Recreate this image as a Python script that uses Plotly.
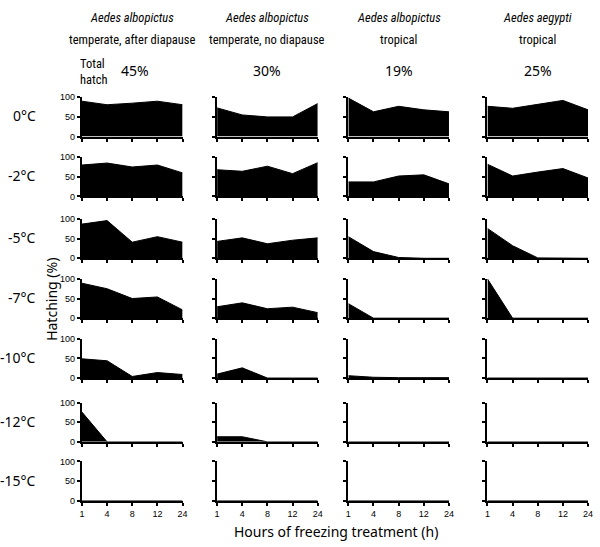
import plotly.graph_objects as go

W, H = 600, 547

hours = ["1", "4", "8", "12", "24"]
temps = ["0°C", "-2°C", "-5°C", "-7°C", "-10°C", "-12°C", "-15°C"]
groups = [("Aedes albopictus", "temperate, after diapause"),
          ("Aedes albopictus", "temperate, no diapause"),
          ("Aedes albopictus", "tropical"),
          ("Aedes aegypti", "tropical")]
total_hatch = ["45%", "30%", "19%", "25%"]

# hatching (%) per group, per temperature, per hour
temperate_diapause = [
    [90, 81, 85, 90, 81],
    [80, 85, 75, 80, 60],
    [87, 96, 41, 55, 41],
    [89, 75, 50, 54, 21],
    [49, 44, 4, 14, 9],
    [76, 0, 0, 0, 0],
    [0, 0, 0, 0, 0],
]
temperate_no_diapause = [
    [73, 55, 50, 50, 84],
    [68, 64, 77, 58, 86],
    [43, 52, 37, 46, 52],
    [29, 39, 24, 28, 14],
    [10, 26, 0, 0, 0],
    [13, 13, 0, 0, 0],
    [0, 0, 0, 0, 0],
]
albopictus_tropical = [
    [98, 63, 77, 68, 63],
    [37, 37, 52, 55, 32],
    [55, 17, 2, 0, 0],
    [37, 0, 0, 0, 0],
    [6, 2, 1, 1, 1],
    [0, 0, 0, 0, 0],
    [0, 0, 0, 0, 0],
]
aegypti_tropical = [
    [77, 72, 82, 92, 68],
    [82, 52, 62, 71, 47],
    [76, 32, 1, 0, 0],
    [100, 0, 0, 0, 0],
    [0, 0, 0, 0, 0],
    [0, 0, 0, 0, 0],
    [0, 0, 0, 0, 0],
]
series = [temperate_diapause, temperate_no_diapause, albopictus_tropical, aegypti_tropical]

col_px = [(80, 182), (217, 319), (350, 452), (491, 593)]
row_tops = [94, 155, 218, 279, 340, 405, 465]
row_h = 40

fig = go.Figure()
layout = dict(width=W, height=H, margin=dict(l=0, r=0, t=0, b=0),
              paper_bgcolor="white", plot_bgcolor="white", showlegend=False)

tick_font = dict(family="Liberation Sans, Arial, sans-serif", size=9, color="black")
n = 0
for r, temp in enumerate(temps):
    for c in range(4):
        n += 1
        xa = "xaxis" if n == 1 else f"xaxis{n}"
        ya = "yaxis" if n == 1 else f"yaxis{n}"
        xr = "x" if n == 1 else f"x{n}"
        yr = "y" if n == 1 else f"y{n}"
        fig.add_trace(go.Scatter(
            x=hours, y=series[c][r], mode="lines", fill="tozeroy",
            fillcolor="black", line=dict(color="black", width=1),
            xaxis=xr, yaxis=yr, hoverinfo="skip"))
        x0, x1 = col_px[c]
        top = row_tops[r]
        layout[xa] = dict(
            domain=[x0 / W, x1 / W], anchor=yr, type="category",
            range=[0, 4], showline=True, linecolor="black", linewidth=2,
            ticks="outside", ticklen=3, tickwidth=1.5, tickcolor="black",
            showgrid=False, zeroline=False, fixedrange=True,
            showticklabels=(r == len(temps) - 1), tickfont=tick_font)
        layout[ya] = dict(
            domain=[1 - (top + row_h) / H, 1 - top / H], anchor=xr,
            range=[0, 100], tickvals=[0, 50, 100], showline=True,
            linecolor="black", linewidth=2, ticks="outside", ticklen=3,
            tickwidth=1.5, tickcolor="black", showgrid=False, zeroline=False,
            fixedrange=True, showticklabels=(c == 0), tickfont=tick_font)

fig.update_layout(**layout)

ann = []
head_font = "Liberation Sans Narrow, Roboto Condensed, DejaVu Sans Condensed, sans-serif"
for c, (sp, desc) in enumerate(groups):
    cx = (col_px[c][0] + col_px[c][1]) / 2 / W
    ann.append(dict(text=f"<i>{sp}</i>", x=cx, y=1 - 13 / H, xref="paper", yref="paper",
                    showarrow=False, xanchor="center", yanchor="middle",
                    font=dict(family=head_font, size=12.5, color="black")))
    ann.append(dict(text=desc, x=cx, y=1 - 35 / H, xref="paper", yref="paper",
                    showarrow=False, xanchor="center", yanchor="middle",
                    font=dict(family=head_font, size=12.5, color="black")))
    px = cx + (3 / W if c == 0 else 0)
    ann.append(dict(text=total_hatch[c], x=px, y=1 - 67 / H, xref="paper", yref="paper",
                    showarrow=False, xanchor="center", yanchor="middle",
                    font=dict(family="Noto Sans, sans-serif", size=14, color="black")))
ann.append(dict(text="Total<br>hatch", x=92 / W, y=1 - 68 / H, xref="paper", yref="paper",
                showarrow=False, xanchor="center", yanchor="middle", align="left",
                font=dict(family=head_font, size=12.5, color="black")))

for r, temp in enumerate(temps):
    cy = 1 - (row_tops[r] + row_h / 2 - 1) / H
    ann.append(dict(text=temp, x=35 / W, y=cy, xref="paper", yref="paper",
                    showarrow=False, xanchor="right", yanchor="middle",
                    font=dict(family="Noto Sans, sans-serif", size=14, color="black")))

ann.append(dict(text="Hatching (%)", x=49 / W, y=1 - 300 / H, xref="paper", yref="paper",
                showarrow=False, xanchor="center", yanchor="middle", textangle=-90,
                font=dict(family="Noto Sans, sans-serif", size=14, color="black")))
ann.append(dict(text="Hours of freezing treatment (h)", x=337 / W, y=1 - 536 / H,
                xref="paper", yref="paper", showarrow=False, xanchor="center",
                yanchor="middle",
                font=dict(family="Noto Sans, sans-serif", size=14, color="black")))
fig.update_layout(annotations=ann)

fig.write_html("out.html", config={"displayModeBar": False},
               post_script="document.body.style.margin='0';document.body.style.overflow='hidden';")
